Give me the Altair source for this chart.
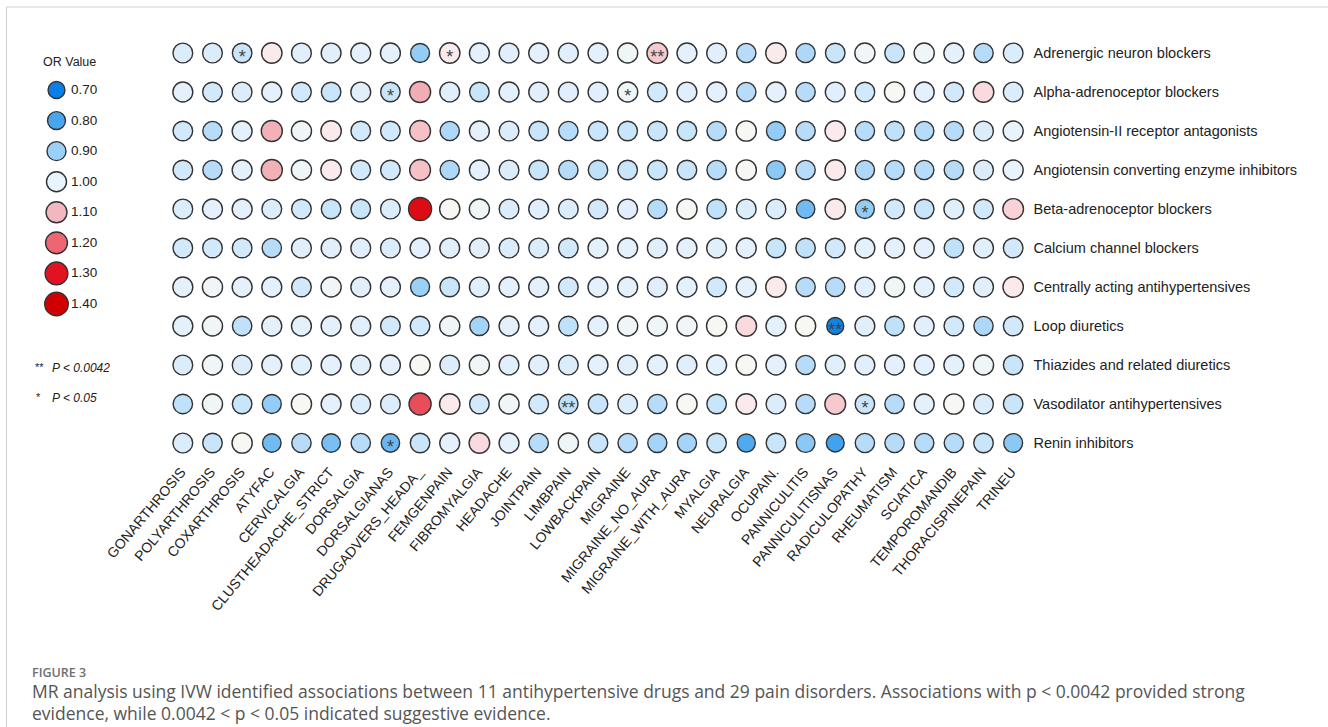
import altair as alt
import pandas as pd

pains = ["GONARTHROSIS", "POLYARTHROSIS", "COXARTHROSIS", "ATYFAC", "CERVICALGIA",
         "CLUSTHEADACHE_STRICT", "DORSALGIA", "DORSALGIANAS", "DRUGADVERS_HEADA_",
         "FEMGENPAIN", "FIBROMYALGIA", "HEADACHE", "JOINTPAIN", "LIMBPAIN", "LOWBACKPAIN",
         "MIGRAINE", "MIGRAINE_NO_AURA", "MIGRAINE_WITH_AURA", "MYALGIA", "NEURALGIA",
         "OCUPAIN.", "PANNICULITIS", "PANNICULITISNAS", "RADICULOPATHY", "RHEUMATISM",
         "SCIATICA", "TEMPOROMANDIB", "THORACISPINEPAIN", "TRINEU"]

drugs = ["Adrenergic neuron blockers", "Alpha-adrenoceptor blockers",
         "Angiotensin-II receptor antagonists", "Angiotensin converting enzyme inhibitors",
         "Beta-adrenoceptor blockers", "Calcium channel blockers",
         "Centrally acting antihypertensives", "Loop diuretics",
         "Thiazides and related diuretics", "Vasodilator antihypertensives", "Renin inhibitors"]

or_adrenergic = [0.97, 0.97, 0.95, 1.04, 0.98, 0.98, 0.99, 0.99, 0.89, 1.04, 0.99, 0.98, 0.99, 0.98, 0.99,
                 1.01, 1.08, 0.99, 0.98, 0.93, 1.04, 0.92, 0.95, 1.01, 0.95, 1.01, 0.99, 0.93, 0.97]
or_alpha = [0.99, 0.96, 0.97, 0.99, 0.96, 0.95, 0.98, 0.95, 1.115, 0.98, 0.95, 0.99, 0.98, 0.98, 0.98,
            1.01, 0.96, 0.98, 0.99, 0.93, 0.99, 0.93, 0.98, 0.96, 1.02, 0.99, 0.96, 1.06, 0.97]
or_arb = [0.96, 0.93, 0.99, 1.11, 1.01, 1.04, 0.96, 0.96, 1.09, 0.92, 0.99, 0.97, 0.95, 0.93, 0.95,
          0.95, 0.95, 0.95, 0.93, 1.02, 0.89, 0.93, 1.04, 0.93, 0.94, 0.93, 0.93, 0.97, 1.00]
or_ace = [0.96, 0.93, 0.99, 1.11, 1.01, 1.04, 0.96, 0.96, 1.09, 0.92, 0.99, 0.97, 0.95, 0.93, 0.94,
          0.95, 0.95, 0.95, 0.93, 1.02, 0.88, 0.93, 1.04, 0.92, 0.93, 0.93, 0.93, 0.97, 1.00]
or_beta = [0.97, 0.99, 0.99, 0.97, 0.96, 0.95, 0.95, 0.97, 1.34, 1.02, 1.01, 0.97, 0.98, 0.97, 0.96,
           0.98, 0.93, 1.02, 0.94, 0.97, 0.97, 0.85, 1.04, 0.89, 0.96, 0.95, 0.98, 0.96, 1.07]
or_calcium = [0.96, 0.96, 0.96, 0.93, 0.98, 0.98, 0.98, 0.97, 0.99, 0.98, 0.98, 0.97, 0.97, 0.96, 0.99,
              0.99, 0.98, 0.99, 0.98, 0.99, 0.95, 0.94, 0.96, 0.99, 0.99, 0.99, 0.94, 0.98, 0.96]
or_central = [0.99, 1.01, 0.99, 0.99, 0.96, 1.01, 0.98, 0.99, 0.90, 0.95, 0.98, 0.99, 0.99, 0.96, 0.99,
              0.99, 0.98, 0.99, 0.96, 0.99, 1.04, 0.93, 0.93, 0.98, 1.01, 0.99, 0.96, 0.98, 1.04]
or_loop = [0.99, 1.01, 0.94, 0.99, 0.99, 0.99, 0.98, 0.96, 0.96, 1.01, 0.91, 0.99, 0.99, 0.94, 0.99,
           1.01, 1.01, 1.01, 1.02, 1.06, 0.99, 1.02, 0.71, 0.98, 0.94, 0.98, 0.96, 0.92, 0.96]
or_thiazide = [0.97, 1.01, 0.97, 0.99, 0.98, 0.99, 0.98, 0.99, 1.02, 0.97, 1.01, 0.98, 0.98, 0.97, 0.99,
               0.98, 0.99, 0.98, 0.99, 1.02, 0.99, 0.93, 0.98, 0.98, 0.99, 0.99, 0.99, 1.01, 0.95]
or_vasodilator = [0.94, 1.01, 0.95, 0.89, 1.02, 0.99, 0.97, 0.97, 1.23, 1.04, 0.96, 1.01, 0.96, 0.94, 0.95,
                  0.97, 0.93, 1.02, 0.95, 1.04, 0.97, 0.93, 1.08, 0.95, 0.93, 0.99, 1.02, 0.97, 0.95]
or_renin = [0.97, 0.95, 1.02, 0.85, 0.93, 0.86, 0.93, 0.84, 0.95, 0.99, 1.06, 0.99, 0.93, 1.01, 0.95,
            0.93, 0.91, 0.91, 0.95, 0.81, 0.95, 0.88, 0.79, 0.93, 0.93, 0.93, 0.93, 0.95, 0.88]

or_rows = [or_adrenergic, or_alpha, or_arb, or_ace, or_beta, or_calcium, or_central,
           or_loop, or_thiazide, or_vasodilator, or_renin]

sig_drug = ["Adrenergic neuron blockers", "Adrenergic neuron blockers", "Adrenergic neuron blockers",
            "Alpha-adrenoceptor blockers", "Alpha-adrenoceptor blockers", "Beta-adrenoceptor blockers",
            "Loop diuretics", "Vasodilator antihypertensives", "Vasodilator antihypertensives",
            "Renin inhibitors"]
sig_pain = ["COXARTHROSIS", "FEMGENPAIN", "MIGRAINE_NO_AURA", "DORSALGIANAS", "MIGRAINE",
            "RADICULOPATHY", "PANNICULITISNAS", "LIMBPAIN", "RADICULOPATHY", "DORSALGIANAS"]
sig_mark = ["*", "*", "**", "*", "*", "*", "**", "**", "*", "*"]

legend_values = [0.70, 0.80, 0.90, 1.00, 1.10, 1.20, 1.30, 1.40]
legend_labels = ["0.70", "0.80", "0.90", "1.00", "1.10", "1.20", "1.30", "1.40"]
color_domain = [0.70, 0.80, 0.90, 0.97, 1.00, 1.02, 1.05, 1.10, 1.20, 1.30, 1.40]
color_range = ["#0a7fe6", "#48a6ef", "#9bd0f8", "#dbedfb", "#e9f3fc", "#f7f8f4", "#fbe3e6",
               "#f3b8bf", "#ed6672", "#e31221", "#d10000"]
# symbol area grows linearly from 285 (OR 0.70) to 555 (OR 1.40)
size_min, size_max = 285, 555

caption_title = "FIGURE 3"
caption_line1 = ("MR analysis using IVW identified associations between 11 antihypertensive drugs "
                 "and 29 pain disorders. Associations with p < 0.0042 provided strong")
caption_line2 = "evidence,  while 0.0042 < p < 0.05 indicated suggestive evidence."

rows = []
for d, vals in zip(drugs, or_rows):
    for p, v in zip(pains, vals):
        rows.append({"drug": d, "pain": p, "OR": v})
df = pd.DataFrame(rows)
sig_df = pd.DataFrame({"drug": sig_drug, "pain": sig_pain, "mark": sig_mark})
leg_df = pd.DataFrame({"OR": legend_values, "label": legend_labels})

FONT = "Liberation Sans"
W, H = 860, 429
PL, PT = 168, 33.5
STROKE = "#333"

fill_scale = alt.Scale(domain=color_domain, range=color_range, interpolate="rgb")
size_scale = alt.Scale(domain=[0.70, 1.40], range=[size_min, size_max], zero=False)

x_enc = alt.X("pain:N", sort=pains, scale=alt.Scale(type="point", padding=0.5),
              axis=alt.Axis(orient="bottom", title=None, labelAngle=-50, labelAlign="right",
                            labelBaseline="middle", labelPadding=7, labelFontSize=14,
                            labelFont=FONT, labelColor="#222", ticks=False, domain=False,
                            grid=False, labelOverlap=False, labelFlush=False, labelBound=False,
                            labelLimit=400))
y_enc = alt.Y("drug:N", sort=drugs, scale=alt.Scale(type="point", padding=0.5),
              axis=alt.Axis(orient="right", title=None, labelPadding=5, labelFontSize=14.5,
                            labelFont=FONT, labelColor="#222", ticks=False, domain=False,
                            grid=False, labelOverlap=False, labelLimit=400))

points = alt.Chart(df).mark_point(filled=True, shape="circle", stroke=STROKE, strokeWidth=1.4,
                                  opacity=1).encode(
    x=x_enc, y=y_enc,
    fill=alt.Fill("OR:Q", scale=fill_scale, legend=None),
    size=alt.Size("OR:Q", scale=size_scale, legend=None),
)

stars = alt.Chart(sig_df).mark_text(fontSize=18, color="#444", baseline="alphabetic", dy=10,
                                     font=FONT).encode(x=x_enc, y=y_enc, text="mark:N")

grid = alt.layer(points, stars)

# legend ("OR Value") drawn with the same fill and size scales, own vertical point scale
leg_y = alt.Y("label:O", sort=legend_labels, axis=None,
              scale=alt.Scale(type="point", padding=0, range=[90 - PT, 304 - PT]))
leg_symbols = alt.Chart(leg_df).mark_point(filled=True, shape="circle", stroke=STROKE,
                                           strokeWidth=1.4, opacity=1).encode(
    x=alt.value(56.5 - PL), y=leg_y,
    fill=alt.Fill("OR:Q", scale=fill_scale, legend=None),
    size=alt.Size("OR:Q", scale=size_scale, legend=None),
)
leg_labels = alt.Chart(leg_df).mark_text(align="left", baseline="middle", font=FONT, fontSize=13.5,
                                         color="#222").encode(
    x=alt.value(71 - PL), y=leg_y, text="label:N")
legend = alt.layer(leg_symbols, leg_labels)


def note(txt, x, y, **kw):
    return alt.Chart(pd.DataFrame({"t": [txt]})).mark_text(align="left", baseline="middle", **kw).encode(
        x=alt.value(x), y=alt.value(y), text="t:N")


notes = [
    note("OR Value", 43 - PL, 62 - PT, font=FONT, fontSize=12.5, color="#222"),
    note("**", 35 - PL, 368 - PT, font=FONT, fontSize=11, color="#222"),
    note("P < 0.0042", 52 - PL, 368 - PT, font=FONT, fontSize=12, fontStyle="italic", color="#222"),
    note("*", 36 - PL, 398 - PT, font=FONT, fontSize=11, color="#222"),
    note("P < 0.05", 52 - PL, 398 - PT, font=FONT, fontSize=12, fontStyle="italic", color="#222"),
    note(caption_title, 32 - PL, 673 - PT, font="Open Sans", fontSize=12.5, fontWeight=600, color="#6e6e6e"),
    note(caption_line1, 32 - PL, 693 - PT, font="Open Sans", fontSize=17.5, color="#555"),
    note(caption_line2, 32 - PL, 715 - PT, font="Open Sans", fontSize=17.5, color="#555"),
]

border_top = alt.Chart(pd.DataFrame({"a": [0]})).mark_rule(color="#cfcfcf", strokeWidth=1).encode(
    x=alt.value(6.5 - PL), x2=alt.value(1328 - PL), y=alt.value(7 - PT))
border_left = alt.Chart(pd.DataFrame({"a": [0]})).mark_rule(color="#cfcfcf", strokeWidth=1).encode(
    x=alt.value(6.5 - PL), y=alt.value(7 - PT), y2=alt.value(727 - PT))

chart = alt.layer(border_top, border_left, grid, legend, *notes).resolve_scale(
    y="independent"
).properties(
    width=W, height=H,
    padding={"left": PL, "top": PT, "right": 1328 - PL - W, "bottom": 727 - PT - H},
    autosize=alt.AutoSizeParams(type="none"),
).configure(background="white").configure_view(stroke=None, strokeWidth=0)

chart.save("out.html", embed_options={"renderer": "svg", "actions": False})
